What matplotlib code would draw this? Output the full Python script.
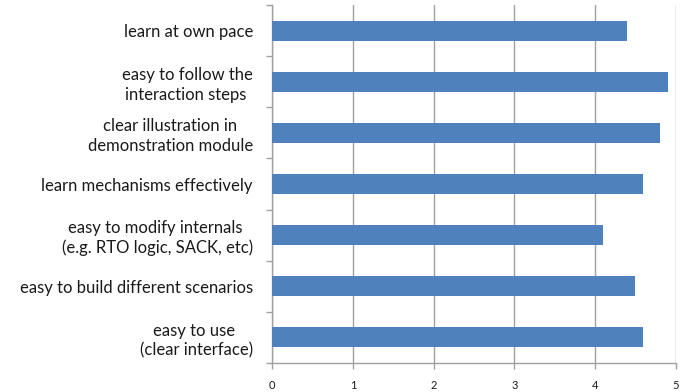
import matplotlib.pyplot as plt
import numpy as np

labels = [
    "learn at own pace",
    "easy to follow the\ninteraction steps ",
    "clear illustration in\ndemonstration module",
    "learn mechanisms effectively",
    "easy to modify internals \n(e.g. RTO logic, SACK, etc)",
    "easy to build different scenarios",
    "easy to use \n(clear interface)",
]
scores = [4.4, 4.9, 4.8, 4.6, 4.1, 4.5, 4.6]
xticks = [0, 1, 2, 3, 4, 5]

plt.rcParams['font.family'] = ['Lato', 'DejaVu Sans']

fig = plt.figure(figsize=(6.93, 3.92), dpi=100)
ax = fig.add_axes([0.393, 0.074, 0.582, 0.913])

pos = np.arange(len(labels))
ax.barh(pos, scores, height=0.39, color='#4f81bd', zorder=3)

ax.set_xlim(0, 5)
ax.set_ylim(len(labels) - 0.5, -0.5)
ax.set_xticks(xticks)
ax.xaxis.grid(True, color='#a0a0a0', linewidth=1.0, zorder=0)

# category labels on majors, boundary ticks on minors
ax.set_yticks(pos)
ax.set_yticklabels(labels, fontsize=12, color='#1a1a1a', multialignment='center',
                   linespacing=1.25)
ax.set_yticks(np.arange(-0.5, len(labels)), minor=True)
ax.tick_params(axis='y', which='major', length=0, pad=14)
ax.tick_params(axis='y', which='minor', length=4, color='#a0a0a0', width=1)
ax.tick_params(axis='x', length=4, color='#a0a0a0', width=1, labelsize=8,
               labelcolor='#1a1a1a', pad=8)

for s in ['top', 'right']:
    ax.spines[s].set_visible(False)
for s in ['left', 'bottom']:
    ax.spines[s].set_color('#a0a0a0')
    ax.spines[s].set_linewidth(1)

fig.savefig('out.png', dpi=100)
